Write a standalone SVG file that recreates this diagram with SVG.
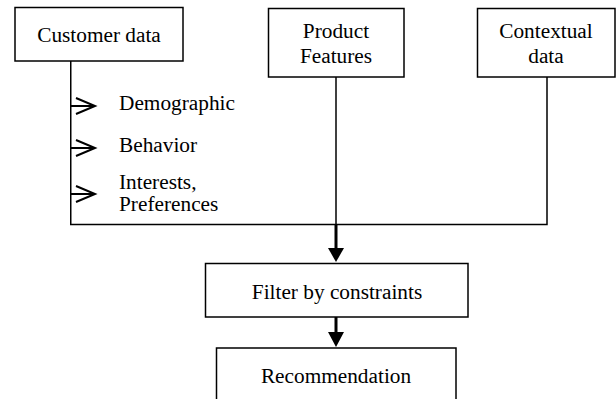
<svg xmlns="http://www.w3.org/2000/svg" width="616" height="399" viewBox="0 0 616 399">
<style>
.box{fill:#fff;stroke:#000;stroke-width:1.5}
.ln{fill:none;stroke:#000;stroke-width:1.5}
.thick{fill:none;stroke:#000;stroke-width:3}
.chev{fill:none;stroke:#000;stroke-width:2}
.t{font-family:'Liberation Serif','DejaVu Serif','Times New Roman',serif;font-size:21.3px;fill:#000}
.c{text-anchor:middle}
</style>
<rect width="616" height="399" fill="#fff"/>
<g id="connectors">
<path class="ln" d="M70.75 61 V224.5 H547 V77"/>
<path class="ln" d="M336 77 V224.5"/>
<path class="thick" d="M336 224.5 V250"/>
<polygon points="328,248 344,248 336,262" fill="#000"/>
<path class="thick" d="M336 317 V334"/>
<polygon points="328,332 344,332 336,347" fill="#000"/>
<path class="chev" d="M70.75 106 H95 M76 98 L95 106 L76 114"/>
<path class="chev" d="M70.75 148 H95 M76 140 L95 148 L76 156"/>
<path class="chev" d="M70.75 194 H95 M76 186 L95 194 L76 202"/>
</g>
<g id="customer-data">
<rect class="box" x="15" y="7.5" width="168" height="53.5"/>
<text class="t c" x="99" y="42">Customer data</text>
</g>
<g id="product-features">
<rect class="box" x="268.5" y="8.5" width="135.5" height="68.5"/>
<text class="t c" x="336" y="38">Product</text>
<text class="t c" x="336" y="63">Features</text>
</g>
<g id="contextual-data">
<rect class="box" x="477.5" y="8.5" width="137.5" height="68.5"/>
<text class="t c" x="546" y="38">Contextual</text>
<text class="t c" x="546" y="63">data</text>
</g>
<g id="labels">
<text class="t" x="119" y="110">Demographic</text>
<text class="t" x="119" y="152">Behavior</text>
<text class="t" x="119" y="189">Interests,</text>
<text class="t" x="119" y="211">Preferences</text>
</g>
<g id="filter">
<rect class="box" x="205.5" y="263.5" width="262.5" height="53.5"/>
<text class="t c" x="337" y="299">Filter by constraints</text>
</g>
<g id="recommendation">
<rect class="box" x="216.5" y="348" width="239.5" height="60"/>
<text class="t c" x="336" y="383">Recommendation</text>
</g>
</svg>
